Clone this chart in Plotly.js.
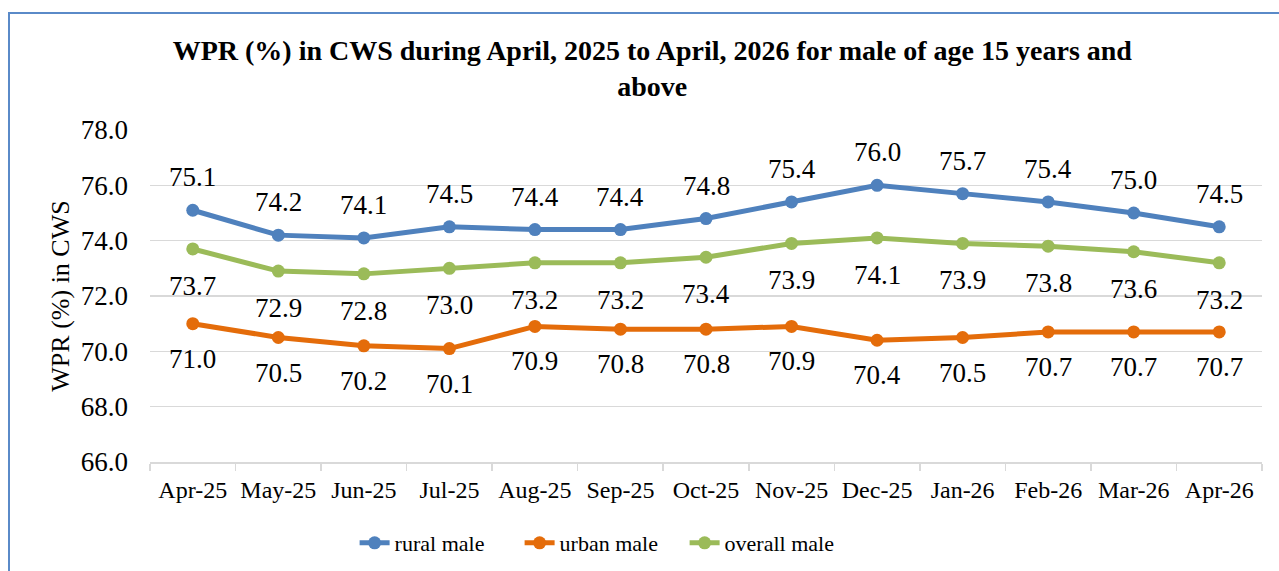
<!DOCTYPE html>
<html>
<head>
<meta charset="utf-8">
<script src="https://cdn.plot.ly/plotly-3.0.1.min.js"></script>
<style>
  html, body { margin: 0; padding: 0; background: #ffffff; overflow: hidden; }
  #frame { position: absolute; left: 8px; top: 12px; width: 1400px; height: 700px; border: 2px solid #5a8ac8; box-sizing: border-box; }
  #chart { position: absolute; left: 0; top: 0; width: 1279px; height: 571px; }
</style>
</head>
<body>
<div id="frame"></div>
<div id="chart"></div>
<script>
const months = ["Apr-25","May-25","Jun-25","Jul-25","Aug-25","Sep-25","Oct-25","Nov-25","Dec-25","Jan-26","Feb-26","Mar-26","Apr-26"];
const ruralMale   = [75.1, 74.2, 74.1, 74.5, 74.4, 74.4, 74.8, 75.4, 76.0, 75.7, 75.4, 75.0, 74.5];
const urbanMale   = [71.0, 70.5, 70.2, 70.1, 70.9, 70.8, 70.8, 70.9, 70.4, 70.5, 70.7, 70.7, 70.7];
const overallMale = [73.7, 72.9, 72.8, 73.0, 73.2, 73.2, 73.4, 73.9, 74.1, 73.9, 73.8, 73.6, 73.2];
const yTicks = [66, 68, 70, 72, 74, 76, 78];

const FONT = "'Liberation Serif', 'Times New Roman', serif";
const series = [
  {name: "rural male", y: ruralMale, color: "#4f81bd", shift: 33},
  {name: "urban male", y: urbanMale, color: "#e46c0a", shift: -35},
  {name: "overall male", y: overallMale, color: "#9bbb59", shift: -37}
];

const traces = series.map(s => ({
  type: "scatter", mode: "lines+markers", name: s.name,
  x: months, y: s.y,
  line: {color: s.color, width: 5},
  marker: {color: s.color, size: 13},
  hoverinfo: "skip"
}));

const annotations = [];
series.forEach(s => {
  s.y.forEach((v, i) => {
    annotations.push({
      x: months[i], y: v, xref: "x", yref: "y",
      text: v.toFixed(1), showarrow: false,
      xanchor: "center", yanchor: "middle", yshift: s.shift,
      font: {family: FONT, size: 27, color: "#000000"}
    });
  });
});

const layout = {
  width: 1279, height: 571,
  paper_bgcolor: "rgba(0,0,0,0)", plot_bgcolor: "rgba(0,0,0,0)",
  margin: {l: 150, r: 17, t: 130, b: 109},
  font: {family: FONT, color: "#000000"},
  title: {
    text: "<b>WPR (%) in CWS during April, 2025 to April, 2026 for male of age 15 years and<br>above</b>",
    font: {family: FONT, size: 28, color: "#000000"},
    x: 0.51, xref: "container", xanchor: "center",
    y: 0.895, yref: "container", yanchor: "top"
  },
  xaxis: {
    type: "category", categoryorder: "array", categoryarray: months,
    range: [-0.5, 12.5],
    showgrid: false, zeroline: false,
    showline: true, linecolor: "#d9d9d9", linewidth: 1.5,
    ticks: "outside", tickson: "boundaries", ticklen: 7, tickcolor: "#d9d9d9", tickwidth: 1.5,
    ticklabelstandoff: 6,
    tickfont: {family: FONT, size: 24, color: "#000000"}
  },
  yaxis: {
    range: [66, 78], tickvals: yTicks, tickformat: ".1f",
    showgrid: true, gridcolor: "#d9d9d9", gridwidth: 1.5,
    zeroline: false, showline: false, ticks: "",
    ticklabelstandoff: 21,
    tickfont: {family: FONT, size: 27, color: "#000000"},
    title: {text: "WPR (%) in CWS", font: {family: FONT, size: 26, color: "#000000"}, standoff: 3}
  },
  legend: {
    orientation: "h", x: 0.184, xanchor: "left",
    y: 0.049, yref: "container", yanchor: "middle",
    entrywidth: 120, entrywidthmode: "pixels",
    font: {family: FONT, size: 22, color: "#000000"},
    bgcolor: "rgba(0,0,0,0)"
  },
  annotations: annotations,
  showlegend: true
};

Plotly.newPlot("chart", traces, layout, {displayModeBar: false, staticPlot: true});
</script>
</body>
</html>
